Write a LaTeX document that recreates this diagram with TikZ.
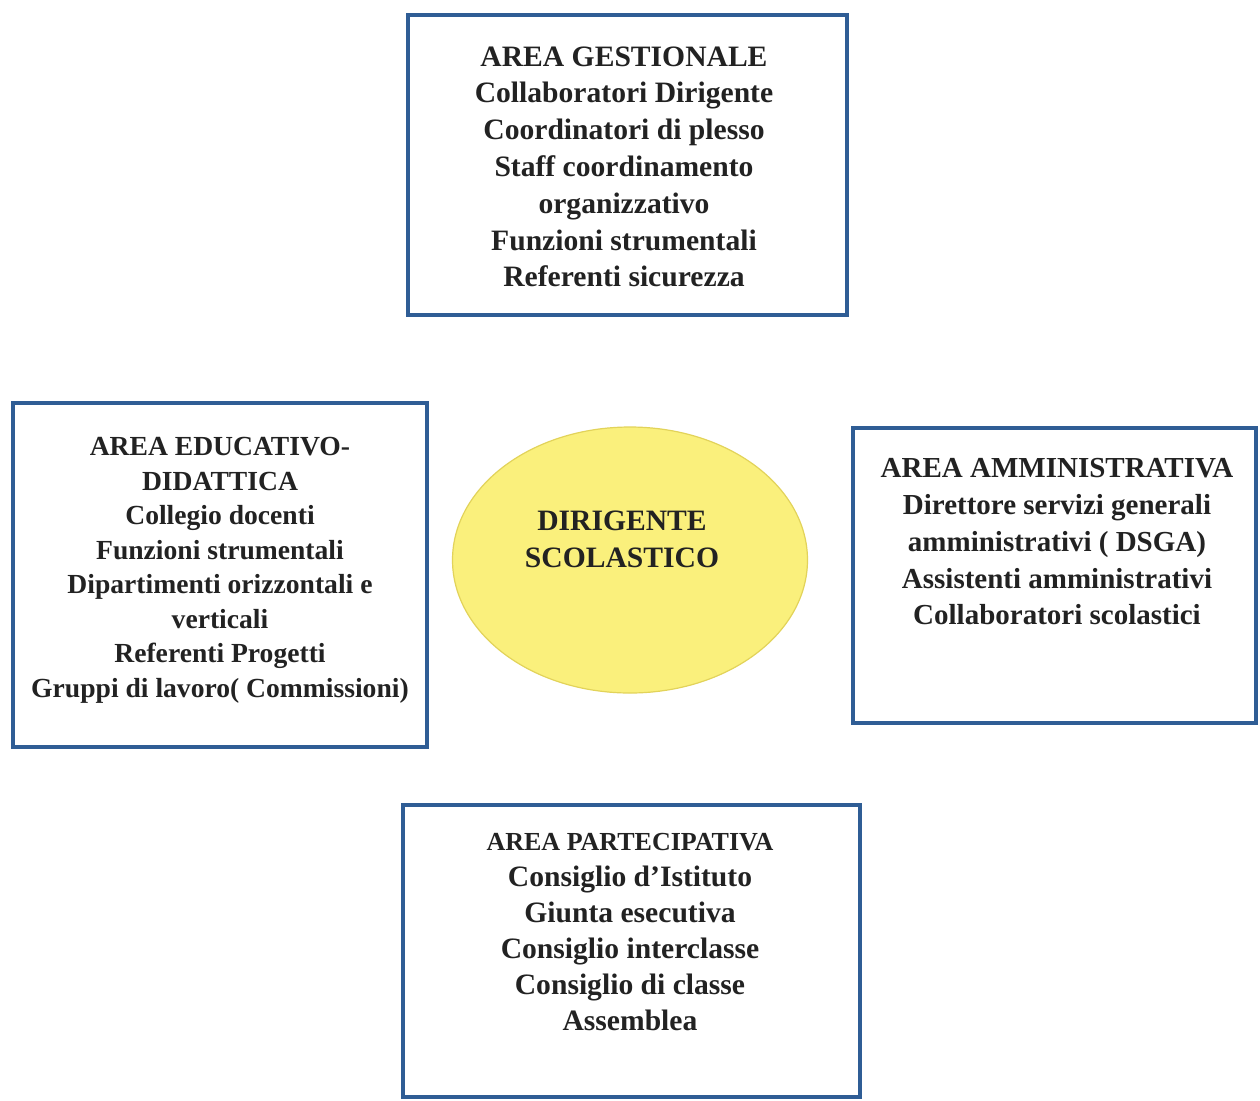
\documentclass[tikz,border=0pt]{standalone}
\usepackage{fontspec}
\setmainfont{Liberation Serif}
\usetikzlibrary{shapes.geometric}
\definecolor{boxblue}{HTML}{2F5D95}
\definecolor{dirfill}{HTML}{FAF07C}
\definecolor{diredge}{HTML}{E2D35A}
\definecolor{ink}{HTML}{222222}
\begin{document}
\begin{tikzpicture}[x=0.5pt,y=-0.5pt,
    frame/.style={draw=boxblue,line width=2pt,inner sep=0pt},
    area/.style={anchor=north,align=center,inner sep=0pt,text=ink,
      font=\fontsize{14.8pt}{18.4pt}\selectfont\bfseries}]
  \useasboundingbox (0,0) rectangle (1260,1100);
  % frames
  \node[frame,minimum width=219.5pt,minimum height=150pt] (gest) at (627.5,165) {};
  \node[frame,minimum width=207pt,minimum height=172pt] (educ) at (220,575) {};
  \node[frame,minimum width=201.5pt,minimum height=147.5pt] (amm) at (1054.5,575.5) {};
  \node[frame,minimum width=228.5pt,minimum height=146pt] (part) at (631.5,951) {};
  \node[ellipse,draw=diredge,fill=dirfill,line width=0.6pt,
    minimum width=177.5pt,minimum height=133pt] (dir) at (630,560) {};
  % texts
  \node[area] (gesttext) at (624,46)
    {AREA GESTIONALE\\Collaboratori Dirigente\\Coordinatori di plesso\\
     Staff coordinamento\\organizzativo\\Funzioni strumentali\\Referenti sicurezza};
  \node[area,font=\fontsize{13.8pt}{17.25pt}\selectfont\bfseries] (eductext) at (220,437)
    {AREA EDUCATIVO-\\DIDATTICA\\Collegio docenti\\Funzioni strumentali\\
     Dipartimenti orizzontali e\\verticali\\Referenti Progetti\\
     Gruppi di lavoro( Commissioni)};
  \node[area,font=\fontsize{14.5pt}{18.4pt}\selectfont\bfseries] (ammtext) at (1057,458)
    {AREA AMMINISTRATIVA\\Direttore servizi generali\\amministrativi ( DSGA)\\
     Assistenti amministrativi\\Collaboratori scolastici};
  \node[area,font=\fontsize{14.8pt}{18pt}\selectfont\bfseries] (parttext) at (630,833)
    {{\fontsize{13pt}{18pt}\selectfont AREA PARTECIPATIVA}\\Consiglio d’Istituto\\
     Giunta esecutiva\\Consiglio interclasse\\Consiglio di classe\\Assemblea};
  \node[area,font=\fontsize{14.8pt}{18.5pt}\selectfont\bfseries] (dirtext) at (622,510)
    {DIRIGENTE\\SCOLASTICO};
\end{tikzpicture}
\end{document}
